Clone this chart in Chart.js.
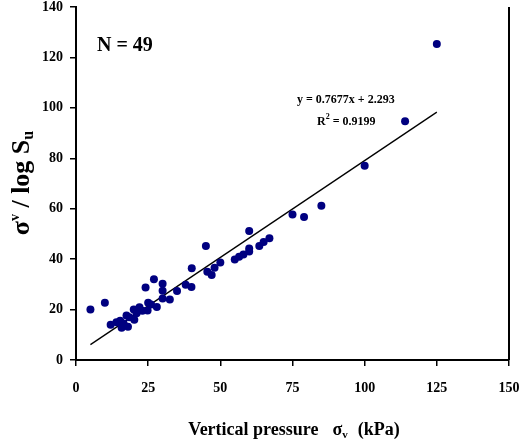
<!DOCTYPE html>
<html>
<head>
<meta charset="utf-8">
<title>σv / log Su vs vertical pressure</title>
<script src="https://cdn.jsdelivr.net/npm/chart.js@4/dist/chart.umd.min.js"></script>
<style>
  html, body { margin: 0; padding: 0; background: #fff; }
  #wrap { width: 521px; height: 439px; position: relative; overflow: hidden; }
</style>
</head>
<body>
<div id="wrap"><canvas id="grafica" width="521" height="439"></canvas></div>
<script>
// Values
const pressure = [5, 10, 12, 14, 15.3, 15.8, 16.5, 17.5, 18, 18.5,
                  20, 20.2, 21, 22, 23, 24.1, 24.8, 25, 26, 27,
                  28, 30, 30, 30, 32.5, 35, 38, 40, 40.1, 45,
                  45.5, 47, 48, 50, 55, 56.5, 58, 60, 60, 60,
                  63.5, 65, 67, 75, 79, 85, 100, 114, 125];
const ratio = [20, 22.7, 14, 15, 15.6, 12.8, 14.5, 17.6, 13.2, 17,
               20, 16, 18.5, 20.9, 19.5, 28.8, 19.6, 22.7, 22, 32,
               21, 30.2, 27.5, 24.4, 24, 27.4, 29.8, 29, 36.4, 45.2,
               35, 33.7, 36.6, 38.7, 39.9, 40.9, 41.8, 44.2, 43, 51.2,
               45.2, 46.8, 48.3, 57.7, 56.7, 61.2, 77, 94.7, 125.3];
const xTicks = [0, 25, 50, 75, 100, 125, 150];
const yTicks = [0, 20, 40, 60, 80, 100, 120, 140];
// trend line ends (y = 0.7677x + 2.293)
const trendX = [5, 125];
const trendY = [6.1, 98.3];
const sampleLabel = 'N = 49';
const equationLabel = 'y = 0.7677x + 2.293';
const r2Label = ' = 0.9199';

const FAMILY = '"Liberation Serif", "Times New Roman", serif';
function font(size) { return 'bold ' + size + 'px ' + FAMILY; }

// draws pieces of text one after another (for sub/superscripts)
function runsWidth(ctx, runs) {
    let w = 0;
    runs.forEach(r => { ctx.font = font(r.size); w += ctx.measureText(r.t).width + (r.gap || 0); });
    return w;
}
function drawRuns(ctx, runs, x, y) {
    runs.forEach(r => {
        ctx.font = font(r.size);
        ctx.fillText(r.t, x, y + (r.dy || 0));
        x += ctx.measureText(r.t).width + (r.gap || 0);
    });
}

const extras = {
    id: 'extras',
    afterDraw(chart) {
        const ctx = chart.ctx;
        const a = chart.chartArea;
        ctx.save();
        // right frame line
        ctx.strokeStyle = '#000';
        ctx.lineWidth = 2;
        ctx.beginPath();
        ctx.moveTo(a.right, a.top);
        ctx.lineTo(a.right, a.bottom);
        ctx.stroke();

        ctx.fillStyle = '#000';
        ctx.textBaseline = 'alphabetic';
        ctx.textAlign = 'left';

        // N = 49
        ctx.font = font(20);
        ctx.fillText(sampleLabel, 97, 51);

        // regression equation
        ctx.font = font(12);
        ctx.fillText(equationLabel, 297, 103);
        drawRuns(ctx, [
            { t: 'R', size: 12 },
            { t: '2', size: 8, dy: -6 },
            { t: r2Label, size: 12 }
        ], 317, 125);

        // x axis title
        const xRuns = [
            { t: 'Vertical pressure', size: 18, gap: 14 },
            { t: 'σ', size: 18 },
            { t: 'v', size: 11, dy: 3, gap: 10 },
            { t: '(kPa)', size: 18 }
        ];
        drawRuns(ctx, xRuns, 294 - runsWidth(ctx, xRuns) / 2, 435);

        // y axis title, rotated
        const yRuns = [
            { t: 'σ', size: 26 },
            { t: 'v', size: 14, dy: -10 },
            { t: ' / log S', size: 26 },
            { t: 'u', size: 16, dy: 4 }
        ];
        ctx.translate(29, 183);
        ctx.rotate(-Math.PI / 2);
        drawRuns(ctx, yRuns, -runsWidth(ctx, yRuns) / 2, 0);
        ctx.restore();
    }
};

document.addEventListener('DOMContentLoaded', function() {
    if (!window.Chart) return;
    const tickFont = { family: FAMILY, size: 14, weight: 'bold', lineHeight: 1 };
    const ctx = document.getElementById('grafica').getContext('2d');
    new Chart(ctx, {
        type: 'scatter',
        data: {
            datasets: [{
                data: pressure.map((x, i) => ({ x: x, y: ratio[i] })),
                backgroundColor: '#000080',
                borderWidth: 0,
                pointRadius: 4,
                clip: false
            }, {
                type: 'line',
                data: trendX.map((x, i) => ({ x: x, y: trendY[i] })),
                borderColor: '#000',
                borderWidth: 1.3,
                pointRadius: 0,
                fill: false
            }]
        },
        options: {
            responsive: false,
            animation: false,
            devicePixelRatio: 1,
            layout: { padding: 0 },
            plugins: { legend: { display: false }, tooltip: { enabled: false } },
            scales: {
                x: {
                    type: 'linear',
                    min: 0,
                    max: 150,
                    afterBuildTicks: s => { s.ticks = xTicks.map(v => ({ value: v })); },
                    // fixed box so the plot area lands where the original one is
                    afterFit: s => { s.height = 79; s.paddingLeft = 0; s.paddingRight = 12; },
                    grid: { drawOnChartArea: false, drawTicks: true, tickLength: 6, color: '#000', lineWidth: 1.5 },
                    border: { color: '#000', width: 2 },
                    ticks: { color: '#000', font: tickFont, padding: 15, maxRotation: 0 }
                },
                y: {
                    type: 'linear',
                    min: 0,
                    max: 140,
                    afterBuildTicks: s => { s.ticks = yTicks.map(v => ({ value: v })); },
                    afterFit: s => { s.width = 76; s.paddingTop = 7; s.paddingBottom = 0; },
                    grid: { drawOnChartArea: false, drawTicks: true, tickLength: 6, color: '#000', lineWidth: 1.5 },
                    border: { color: '#000', width: 2 },
                    ticks: { color: '#000', font: tickFont, padding: 7 }
                }
            }
        },
        plugins: [extras]
    });
});
</script>
</body>
</html>
